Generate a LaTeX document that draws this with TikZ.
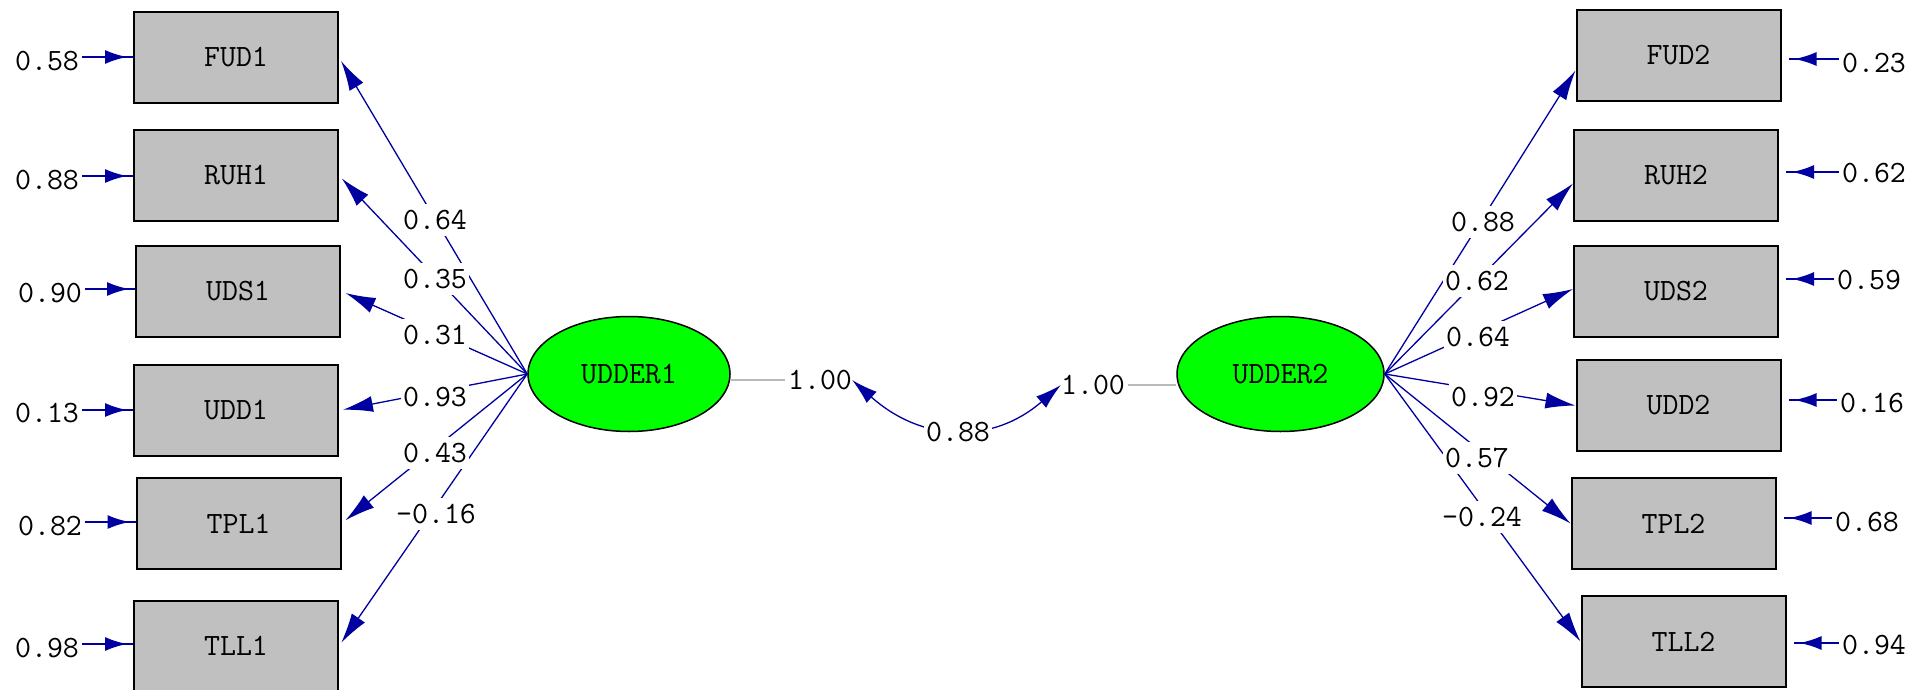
\documentclass[tikz,border=0pt]{standalone}
\usetikzlibrary{arrows.meta,decorations.markings,calc,shapes.geometric}
\definecolor{lisblue}{RGB}{0,0,160}
\definecolor{boxgray}{RGB}{192,192,192}
\definecolor{latgreen}{RGB}{0,255,0}
\definecolor{corgray}{RGB}{185,185,185}
\begin{document}
\begin{tikzpicture}[x=1pt,y=-1pt,
  txt/.style={font=\ttfamily\fontsize{31}{36}\selectfont},
  obs/.style={txt,draw=black,line width=2pt,fill=boxgray,minimum width=204pt,minimum height=91pt,inner sep=0pt},
  lat/.style={txt,ellipse,draw=black,line width=1.5pt,fill=latgreen,minimum width=202pt,minimum height=115pt,inner sep=0pt},
  val/.style={txt,inner sep=0pt},
  lbl/.style={txt,fill=white,inner xsep=2pt,inner ysep=6pt},
  load/.style={draw=lisblue,line width=1.3pt,-{Latex[length=30pt,width=16pt]}},
  err/.style={draw=lisblue,line width=2pt,postaction={decorate},decoration={markings,mark=at position -6pt with {\arrow[lisblue]{Latex[length=22pt,width=14pt]}}}},
  cor/.style={draw=lisblue,line width=1.3pt,{Latex[length=26pt,width=15pt]}-{Latex[length=26pt,width=15pt]}},
  gline/.style={draw=corgray,line width=2pt},
]
\fill[white] (0,0) rectangle (1926,690);
\useasboundingbox (0,0) rectangle (1926,690);

% observed variables
\node[obs] (FUD1) at (236,57.5) {FUD1};
\node[obs] (RUH1) at (236,175.5) {RUH1};
\node[obs] (UDS1) at (238,291) {UDS1};
\node[obs] (UDD1) at (236,410.5) {UDD1};
\node[obs] (TPL1) at (238.5,523.5) {TPL1};
\node[obs] (TLL1) at (236,646) {TLL1};
\node[obs] (FUD2) at (1678.5,55.5) {FUD2};
\node[obs] (RUH2) at (1676,175.5) {RUH2};
\node[obs] (UDS2) at (1676,291) {UDS2};
\node[obs] (UDD2) at (1678.5,405.5) {UDD2};
\node[obs] (TPL2) at (1673.5,523.5) {TPL2};
\node[obs] (TLL2) at (1683.5,641.5) {TLL2};

% latent variables
\node[lat] (U1) at (629,374) {UDDER1};
\node[lat,minimum width=207pt] (U2) at (1280.5,374) {UDDER2};

% error variances
\node[val] (e1) at (47,61) {0.58};
\node[val] (e2) at (47,180) {0.88};
\node[val] (e3) at (50,293) {0.90};
\node[val] (e4) at (47,413) {0.13};
\node[val] (e5) at (50,526) {0.82};
\node[val] (e6) at (47,648) {0.98};
\node[val] (f1) at (1874,63) {0.23};
\node[val] (f2) at (1874,173) {0.62};
\node[val] (f3) at (1869,280) {0.59};
\node[val] (f4) at (1872,403) {0.16};
\node[val] (f5) at (1867,522) {0.68};
\node[val] (f6) at (1874,645) {0.94};

\coordinate (ea1) at ([yshift=4pt,xshift=3pt]e1.east);
\coordinate (ea2) at ([yshift=4pt,xshift=3pt]e2.east);
\coordinate (ea3) at ([yshift=4pt,xshift=3pt]e3.east);
\coordinate (ea4) at ([yshift=3pt,xshift=3pt]e4.east);
\coordinate (ea5) at ([yshift=4pt,xshift=3pt]e5.east);
\coordinate (ea6) at ([yshift=4pt,xshift=3pt]e6.east);
\draw[err] (ea1) -- (ea1 -| FUD1.west);
\draw[err] (ea2) -- (ea2 -| RUH1.west);
\draw[err] (ea3) -- (ea3 -| UDS1.west);
\draw[err] (ea4) -- (ea4 -| UDD1.west);
\draw[err] (ea5) -- (ea5 -| TPL1.west);
\draw[err] (ea6) -- (ea6 -| TLL1.west);

\coordinate (fa1) at ([yshift=4pt,xshift=-3pt]f1.west);
\coordinate (fa2) at ([yshift=1pt,xshift=-3pt]f2.west);
\coordinate (fa3) at ([yshift=1pt,xshift=-3pt]f3.west);
\coordinate (fa4) at ([yshift=3pt,xshift=-3pt]f4.west);
\coordinate (fa5) at ([yshift=4pt,xshift=-3pt]f5.west);
\coordinate (fa6) at ([yshift=2pt,xshift=-3pt]f6.west);
\draw[err] (fa1) -- ($(fa1 -| FUD2.east)+(7,0)$);
\draw[err] (fa2) -- ($(fa2 -| RUH2.east)+(7,0)$);
\draw[err] (fa3) -- ($(fa3 -| UDS2.east)+(7,0)$);
\draw[err] (fa4) -- ($(fa4 -| UDD2.east)+(7,0)$);
\draw[err] (fa5) -- ($(fa5 -| TPL2.east)+(7,0)$);
\draw[err] (fa6) -- ($(fa6 -| TLL2.east)+(7,0)$);

% loadings
\draw[load,shorten >=4pt] (U1.west) -- (FUD1.east);
\draw[load,shorten >=4pt] (U1.west) -- (RUH1.east);
\draw[load,shorten >=5pt] (U1.west) -- (UDS1.east);
\draw[load,shorten >=4pt] (U1.west) -- (UDD1.east);
\draw[load,shorten >=5pt] (U1.west) -- (TPL1.east);
\draw[load,shorten >=4pt] (U1.west) -- (TLL1.east);
\draw[load] (U2.east) -- ([yshift=-15pt]FUD2.west);
\draw[load] (U2.east) -- ([yshift=-8pt]RUH2.west);
\draw[load] (U2.east) -- ([yshift=2pt]UDS2.west);
\draw[load] (U2.east) -- (UDD2.west);
\draw[load] (U2.east) -- (TPL2.west);
\draw[load] (U2.east) -- (TLL2.west);

\node[lbl] (l1) at (435,220) {0.64};
\node[lbl] (l2) at (435,279) {0.35};
\node[lbl] (l3) at (435,335) {0.31};
\node[lbl] (l4) at (435,397) {0.93};
\node[lbl] (l5) at (435,453) {0.43};
\node[lbl] (l6) at (436,514) {-0.16};
\node[lbl] (r1) at (1483,222) {0.88};
\node[lbl] (r2) at (1477,281) {0.62};
\node[lbl] (r3) at (1478,337) {0.64};
\node[lbl] (r4) at (1483,397) {0.92};
\node[lbl] (r5) at (1477,458) {0.57};
\node[lbl] (r6) at (1482,517) {-0.24};

% correlation
\node[val] (L1) at (820,380) {1.00};
\node[val] (R1) at (1093,385) {1.00};
\draw[gline] (U1.east |- L1.west) -- ([xshift=-3pt]L1.west);
\draw[gline] ([xshift=3pt]R1.east) -- (U2.west |- R1.east);
\draw[cor] (L1.east) .. controls (923,443) and (993,444) .. (R1.west);
\node[lbl] (c1) at (958,432) {0.88};
\end{tikzpicture}
\end{document}
